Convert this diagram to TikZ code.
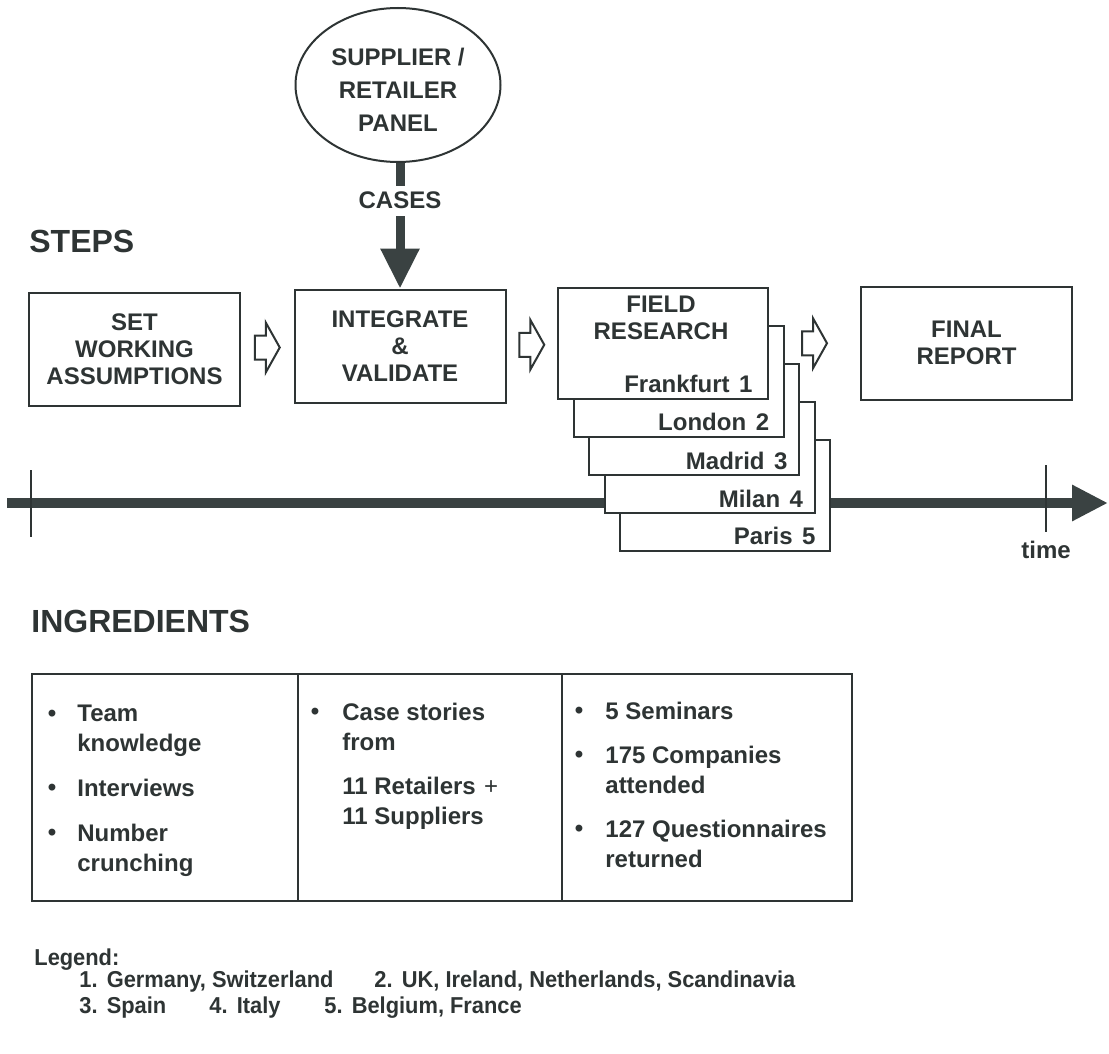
\documentclass[tikz,border=0pt]{standalone}
\usepackage{fontspec}
\setmainfont{Liberation Sans}
\newfontfamily\legendfont{Liberation Sans}[FakeStretch=0.95]
\usetikzlibrary{shapes.geometric,arrows.meta,calc}
\definecolor{ink}{RGB}{46,52,52}
\definecolor{inkfill}{RGB}{58,66,66}
\tikzset{
  hollowarrow/.pic={
    \draw[ink, line width=1pt, line join=miter, fill=white]
      (-12.5,-12) -- (-1.5,-12) -- (-1.5,-25) -- (12.5,0) -- (-1.5,25)
      -- (-1.5,12) -- (-12.5,12) -- cycle;
  }
}
\begin{document}
\begin{tikzpicture}[x=0.5pt,y=-0.5pt,
  every node/.style={text=ink, inner sep=0pt, font=\bfseries\fontsize{12}{13.5}\selectfont},
  stepbox/.style={draw=ink, line width=1pt, fill=white, minimum width=105.5pt,
    minimum height=56.5pt, align=center},
  card/.style={draw=ink, line width=1pt, fill=white, minimum width=105pt, minimum height=55.75pt},
  cardlabel/.style={anchor=base east},
  heading/.style={anchor=west, font=\bfseries\fontsize{16}{19}\selectfont},
  item/.style={anchor=north west, align=left, font=\bfseries\fontsize{12}{15}\selectfont},
  bul/.style={anchor=base, font=\bfseries\fontsize{12}{15}\selectfont},
  col/.style={draw=ink, line width=1.1pt, minimum height=113.5pt},
  legend/.style={anchor=base west, font=\legendfont\bfseries\fontsize{11.5}{13}\selectfont},
  tick/.style={draw=ink, line width=1pt},
]
\useasboundingbox (0,0) rectangle (1109,1054);
\fill[white] (0,0) rectangle (1109,1054);

% panel feeding the second step
\node[ellipse, draw=ink, line width=1pt, minimum width=102.5pt, minimum height=77pt,
  align=center, font=\bfseries\fontsize{12}{16.5}\selectfont] (panel) at (398,85)
  {\rule{0pt}{13.6pt}SUPPLIER /\\RETAILER\\PANEL};

% headings
\node[heading] (steps) at (29,241) {STEPS};
\node[heading] (ingr) at (31,621.5) {INGREDIENTS};

% time axis with start and end marks
\coordinate (tl0) at (7,503);
\coordinate (tl1) at (1108,503);
\draw[inkfill, line width=5pt, -{Triangle[width=17pt,length=18pt]}] (tl0) -- (tl1);
\coordinate (tka) at (31,470);
\coordinate (tkb) at (31,537);
\coordinate (tkc) at (1046,465);
\coordinate (tkd) at (1046,532);
\draw[tick] (tka) -- (tkb);
\draw[tick] (tkc) -- (tkd);
\node (time) at (1046,550) {time};

% steps
\node[stepbox] (b1) at (134.5,349) {SET\\WORKING\\ASSUMPTIONS};
\node[stepbox] (b2) at (400,346) {INTEGRATE\\\&\\VALIDATE};

% stacked field research cards, back to front
\node[card] (c5) at (725,495.5) {};
\node[card] (c4) at (709.5,457.5) {};
\node[card] (c3) at (694,419.5) {};
\node[card] (c2) at (678.5,381.5) {};
\node[card] (c1) at (663,343.5) {};
\node[anchor=north, align=center] (fr) at ($(c1.north)+(-2,8.5)$) {FIELD\\RESEARCH};
\node[cardlabel] (l1) at ($(c1.south east)+(-16,-8)$) {Frankfurt\hspace{0.4em}1};
\node[cardlabel] (l2) at ($(c2.south east)+(-15,-7.5)$) {London\hspace{0.4em}2};
\node[cardlabel] (l3) at ($(c3.south east)+(-12,-7)$) {Madrid\hspace{0.4em}3};
\node[cardlabel] (l4) at ($(c4.south east)+(-12,-7)$) {Milan\hspace{0.4em}4};
\node[cardlabel] (l5) at ($(c5.south east)+(-15,-7.5)$) {Paris\hspace{0.4em}5};

\node[stepbox] (fin) at (966.5,343) {FINAL\\REPORT};

% flow between steps
\pic at ($(b1.east)!0.5!(b2.west)$) {hollowarrow};
\pic at ($(b2.east)!0.5!(c1.west)$) {hollowarrow};
\pic at ($(c1.east)!0.5!(fin.west)$) {hollowarrow};

\draw[inkfill, line width=4.5pt, -{Triangle[width=18.5pt,length=20pt]}]
  (panel.south -| b2.north) -- (b2.north)
  node[pos=0.3, fill=white, inner xsep=3pt, inner ysep=3.25pt, text=ink] (cases) {CASES};

% ingredients table
\node[col, minimum width=133pt] (ing1) at (165,787.5) {};
\node[col, minimum width=132pt] (ing2) at (430,787.5) {};
\node[col, minimum width=145pt] (ing3) at (707,787.5) {};

\node[bul] (d1) at (52,721.6) {•};
\node[item] (i1) at (77,704.5) {Team\\knowledge};
\node[bul] (d2) at (52,795.6) {•};
\node[item] (i2) at (77,778.4) {Interviews};
\node[bul] (d3) at (52,840.6) {•};
\node[item] (i3) at (77,823.4) {Number\\crunching};

\node[bul] (d4) at (315,719.6) {•};
\node[item] (i4) at (342,702.4) {Case stories\\from};
\node[item] (i5) at (342,776.4) {11 Retailers\hspace{0.35em}{\mdseries +}\\11 Suppliers};

\node[bul] (d6) at (579,718.6) {•};
\node[item] (i6) at (605,701.4) {5 Seminars};
\node[bul] (d7) at (579,762.6) {•};
\node[item] (i7) at (605,745.4) {175 Companies\\attended};
\node[bul] (d8) at (579,836.6) {•};
\node[item] (i8) at (605,819.4) {127 Questionnaires\\returned};

% legend
\node[legend] (lg) at (34,965) {Legend:};
\node[legend] (lg1) at (79,987) {1.\hspace{0.4em}Germany, Switzerland};
\node[legend] (lg2) at (374,987) {2.\hspace{0.4em}UK, Ireland, Netherlands, Scandinavia};
\node[legend] (lg3) at (79,1013) {3.\hspace{0.4em}Spain};
\node[legend] (lg4) at (209,1013) {4.\hspace{0.4em}Italy};
\node[legend] (lg5) at (324,1013) {5.\hspace{0.4em}Belgium, France};
\end{tikzpicture}
\end{document}
